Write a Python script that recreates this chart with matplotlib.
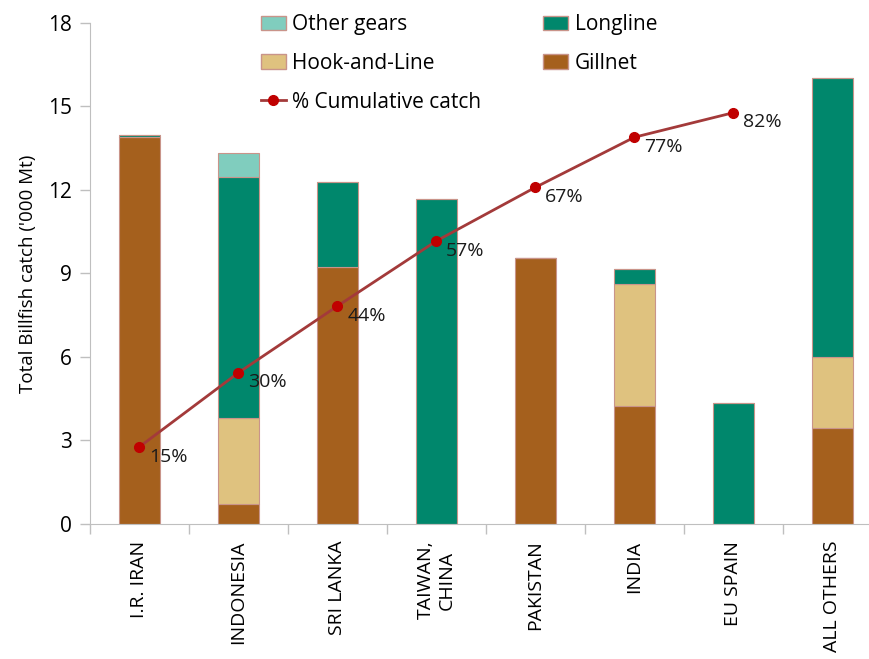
import numpy as np
import matplotlib
matplotlib.use("Agg")
import matplotlib.pyplot as plt
from matplotlib.patches import Patch
from matplotlib.lines import Line2D

plt.rcParams["font.family"] = ["Open Sans", "DejaVu Sans"]

countries = ["I.R. IRAN", "INDONESIA", "SRI LANKA", "TAIWAN,\nCHINA", "PAKISTAN",
             "INDIA", "EU SPAIN", "ALL OTHERS"]
gillnet = [13.92, 0.72, 9.23, 0.0, 9.56, 4.24, 0.0, 3.45]
hook_line = [0.0, 3.09, 0.0, 0.0, 0.0, 4.38, 0.0, 2.55]
longline = [0.06, 8.66, 3.06, 11.68, 0.0, 0.54, 4.35, 10.03]
other_gears = [0.0, 0.86, 0.0, 0.0, 0.0, 0.0, 0.0, 0.0]
cum_pct = [15.4, 30.2, 43.5, 56.5, 67.2, 77.2, 82.1]
cum_labels = ["15%", "30%", "44%", "57%", "67%", "77%", "82%"]

c_gill = "#A5601D"
c_hook = "#DFC27F"
c_long = "#00876C"
c_other = "#80CDBE"
c_line = "#A33A3A"
c_mark = "#C00000"
edge = "#C9948A"

fig = plt.figure(figsize=(8.7, 6.59), dpi=100)
ax = fig.add_axes([0.1034, 0.2049, 0.9103, 0.7602])

x = np.arange(len(countries))
w = 0.42
b = np.zeros(len(x))
for vals, col in [(gillnet, c_gill), (hook_line, c_hook), (longline, c_long), (other_gears, c_other)]:
    v = np.array(vals)
    ax.bar(x, v, w, bottom=b, color=col, edgecolor=edge, linewidth=0.8, zorder=2)
    b += v

ax.set_xlim(-0.5, 7.5)
ax.set_ylim(0, 18)
ax.set_yticks(np.arange(0, 19, 3))
ax.set_xticks(x)
ax.set_xticklabels(countries, rotation=90, fontsize=14, va="top", ha="center")
ax.set_xticks(np.arange(-0.5, 8, 1), minor=True)
ax.tick_params(axis="x", which="major", length=0, pad=12)
ax.tick_params(axis="x", which="minor", length=7, color="#BFBFBF", width=1)
ax.tick_params(axis="y", labelsize=15, length=7, color="#BFBFBF", width=1, pad=6)
for s in ["top", "right"]:
    ax.spines[s].set_visible(False)
for s in ["left", "bottom"]:
    ax.spines[s].set_color("#BFBFBF")
ax.set_ylabel("Total Billfish catch ('000 Mt)", fontsize=13.5, labelpad=8)

ax2 = ax.twinx()
ax2.set_ylim(0, 100)
ax2.axis("off")
ax2.plot(x[:len(cum_pct)], cum_pct, color=c_line, lw=2, marker="o", ms=7,
         mfc=c_mark, mec=c_mark, zorder=5)
for xi, yi, lab in zip(x, cum_pct, cum_labels):
    ax2.annotate(lab, (xi, yi), xytext=(7, -7), textcoords="offset points",
                 fontsize=14, va="center", ha="left", color="#1a1a1a")

handles = [Patch(facecolor=c_other, edgecolor=edge), Patch(facecolor=c_hook, edgecolor=edge),
           Line2D([0], [0], color=c_line, lw=2, marker="o", ms=7, mfc=c_mark, mec=c_mark),
           Patch(facecolor=c_long, edgecolor=edge), Patch(facecolor=c_gill, edgecolor=edge)]
labels = ["Other gears", "Hook-and-Line", "% Cumulative catch", "Longline", "Gillnet"]
fig.legend(handles, labels, ncol=2, loc="upper left", bbox_to_anchor=(0.278, 1.007),
           frameon=False, fontsize=15, handlelength=1.2, handletextpad=0.3,
           columnspacing=3.0, labelspacing=0.85)

fig.savefig("out.png", dpi=100)
